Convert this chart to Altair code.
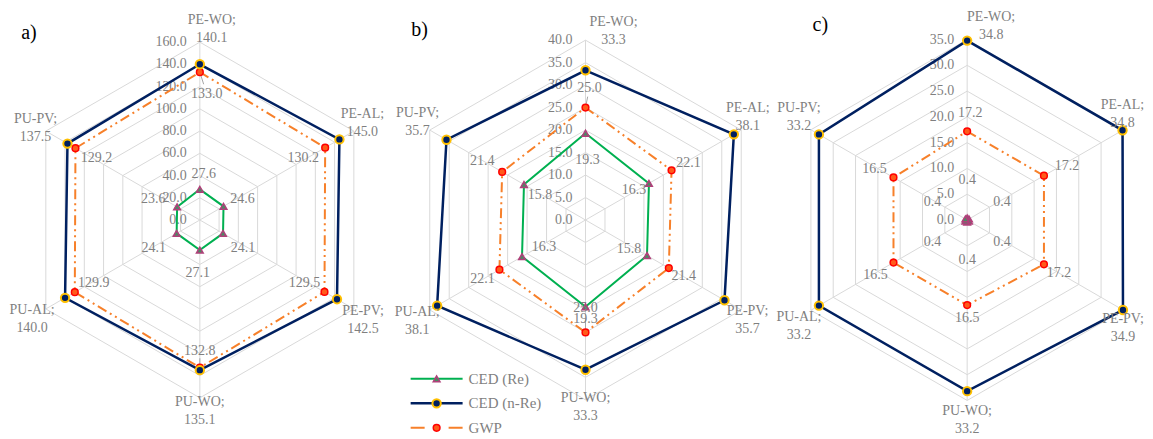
import math
import altair as alt
import pandas as pd

# ---------------- data ----------------
categories = ["PE-WO", "PE-AL", "PE-PV", "PU-WO", "PU-AL", "PU-PV"]
series_names = ["CED (Re)", "CED (n-Re)", "GWP"]

a_ced_re = [27.6, 24.6, 24.1, 27.1, 24.1, 23.6]
a_ced_nre = [140.1, 145.0, 142.5, 135.1, 140.0, 137.5]
a_gwp = [133.0, 130.2, 129.5, 132.8, 129.9, 129.2]
a_ticks = [0, 20, 40, 60, 80, 100, 120, 140, 160]

b_ced_re = [19.3, 16.3, 15.8, 19.3, 16.3, 15.8]
b_ced_nre = [33.3, 38.1, 35.7, 33.3, 38.1, 35.7]
b_gwp = [25.0, 22.1, 21.4, 25.0, 22.1, 21.4]
b_ticks = [0, 5, 10, 15, 20, 25, 30, 35, 40]

c_ced_re = [0.4, 0.4, 0.4, 0.4, 0.4, 0.4]
c_ced_nre = [34.8, 34.8, 34.9, 33.2, 33.2, 33.2]
c_gwp = [17.2, 17.2, 17.2, 16.5, 16.5, 16.5]
c_ticks = [0, 5, 10, 15, 20, 25, 30, 35]

panel_letters = ["a)", "b)", "c)"]

# ---------------- style ----------------
FONT = "Liberation Serif, DejaVu Serif, serif"
GRAY = "#7f7f7f"
GRID = "#d9d9d9"
LEADER = "#a6a6a6"
GREEN = "#00b050"
NAVY = "#002060"
GOLD = "#ffc000"
ORANGE = "#f7802a"
RED = "#ff0000"
LINE_H = 18

# panel layout: width, height, centre offset (px), px per data unit
layouts = [
    dict(w=384, h=423, cx=192, cy=212, k=178 / 160, letter=(21, 25), leaders=[0, 3]),
    dict(w=386, h=423, cx=194, cy=212, k=180 / 40, letter=(28, 22), leaders=[0, 3]),
    dict(w=367, h=423, cx=190, cy=212, k=180.6 / 35, letter=(43, 17), leaders=[]),
]

# label offsets in pixels (dx right, dy down) relative to each point (block centre)
offsets = [
    {
        "CED (n-Re)": [(12, -35), (23, -16), (26, 21), (0, 41), (-33, 21), (-32, -16)],
        "GWP": [(7, 22), (-22, 10), (-20, -9), (0, -17), (19, -9), (21, 10)],
        "CED (Re)": [(4, -15), (19, -7), (20, 15), (-2, 23), (-23, 15), (-24, -8)],
    },
    {
        "CED (n-Re)": [(28, -39), (14, -17), (23, 20), (0, 37), (-20, 15), (-29, -18)],
        "GWP": [(4, -20), (17, -7), (15, 8), (0, -24), (-17, 9), (-20, -11)],
        "CED (Re)": [(2, 27), (-15, 7), (-18, -7), (0, 12), (22, -10), (16, 11)],
    },
    {
        "CED (n-Re)": [(24, -15), (0, -16), (0, 18), (0, 29), (-20, 20), (-20, -17)],
        "GWP": [(3, -18), (23, -10), (15, 9), (0, 13), (-18, 12), (-19, -8)],
        "CED (Re)": [(0, -38), (33, -17), (33, 21), (0, 38), (-33, 21), (-33, -17)],
    },
]

angles = [math.radians(60 * i) for i in range(6)]


def panel(idx, re_vals, nre_vals, gwp_vals, ticks):
    lay = layouts[idx]
    W, H, cxr, cyr, k = lay["w"], lay["h"], lay["cx"], lay["cy"], lay["k"]
    xs = alt.Scale(domain=[-cxr / k, (W - cxr) / k], nice=False, zero=False)
    ys = alt.Scale(domain=[-(H - cyr) / k, cyr / k], nice=False, zero=False)

    def X(f):
        return alt.X(f, type="quantitative", scale=xs, axis=None)

    def Y(f):
        return alt.Y(f, type="quantitative", scale=ys, axis=None)

    rmax = max(ticks)
    grid_rows = []
    for t in ticks:
        for j in range(7):
            a = angles[j % 6]
            grid_rows.append(dict(ring=t, j=j, x=t * math.sin(a), y=t * math.cos(a)))
    grid = alt.Chart(pd.DataFrame(grid_rows)).mark_line(
        color=GRID, strokeWidth=1
    ).encode(x=X("x"), y=Y("y"), detail="ring:N", order="j:Q")

    spoke_rows = [
        dict(x=0.0, y=0.0, x2=rmax * math.sin(a), y2=rmax * math.cos(a)) for a in angles
    ]
    spokes = alt.Chart(pd.DataFrame(spoke_rows)).mark_rule(
        color=GRID, strokeWidth=1
    ).encode(x=X("x"), y=Y("y"), x2="x2:Q", y2="y2:Q")

    tick_df = pd.DataFrame(
        dict(x=[0.0] * len(ticks), y=ticks, label=[f"{t:.1f}" for t in ticks])
    )
    tick_text = alt.Chart(tick_df).mark_text(
        font=FONT, fontSize=14, color=GRAY, align="right", baseline="middle", dx=-13
    ).encode(x=X("x"), y=Y("y"), text="label:N")

    layers = [grid, spokes, tick_text]

    series_vals = {"CED (Re)": re_vals, "CED (n-Re)": nre_vals, "GWP": gwp_vals}
    line_style = {
        "GWP": dict(color=ORANGE, strokeWidth=2, strokeDash=[10, 4, 2, 4, 2, 4]),
        "CED (n-Re)": dict(color=NAVY, strokeWidth=2.5),
        "CED (Re)": dict(color=GREEN, strokeWidth=2),
    }
    point_style = {
        "GWP": dict(shape="circle", size=45, fill="#ff5a1a", stroke=RED, strokeWidth=1.5, opacity=1),
        "CED (n-Re)": dict(shape="circle", size=70, fill=NAVY, stroke=GOLD, strokeWidth=2, opacity=1),
        "CED (Re)": dict(shape="triangle-up", size=45, fill="#4a8a63", stroke="#b0407a", strokeWidth=1.5, opacity=1),
    }
    label_rows = []
    leader_rows = []
    for s in ["GWP", "CED (n-Re)", "CED (Re)"]:
        vals = series_vals[s]
        rows = []
        for j in range(7):
            i = j % 6
            rows.append(dict(cat=categories[i], value=vals[i], j=j,
                             x=vals[i] * math.sin(angles[i]), y=vals[i] * math.cos(angles[i])))
        layers.append(
            alt.Chart(pd.DataFrame(rows)).mark_line(**line_style[s]).encode(
                x=X("x"), y=Y("y"), order="j:Q")
        )
        for i in range(6):
            dx, dy = offsets[idx][s][i]
            bx = vals[i] * math.sin(angles[i])
            by = vals[i] * math.cos(angles[i])
            if s == "GWP" and i in lay["leaders"]:
                leader_rows.append(dict(
                    x=bx + 0.15 * dx / k, y=by - 0.15 * dy / k,
                    x2=bx + 0.55 * dx / k, y2=by - 0.55 * dy / k))
            if s == "CED (n-Re)":
                txt = f"{categories[i]};\n{vals[i]:.1f}"
                dy -= LINE_H / 2  # first line sits half a line above the block centre
            else:
                txt = f"{vals[i]:.1f}"
            label_rows.append(dict(x=bx + dx / k, y=by - dy / k, text=txt))

    if leader_rows:
        layers.append(alt.Chart(pd.DataFrame(leader_rows)).mark_rule(
            color=LEADER, strokeWidth=1
        ).encode(x=X("x"), y=Y("y"), x2="x2:Q", y2="y2:Q"))

    for s in ["GWP", "CED (n-Re)", "CED (Re)"]:
        vals = series_vals[s]
        df = pd.DataFrame(dict(cat=categories, value=vals,
                               x=[v * math.sin(a) for v, a in zip(vals, angles)],
                               y=[v * math.cos(a) for v, a in zip(vals, angles)]))
        layers.append(
            alt.Chart(df).mark_point(filled=True, **point_style[s]).encode(x=X("x"), y=Y("y"))
        )

    labels = alt.Chart(pd.DataFrame(label_rows)).mark_text(
        font=FONT, fontSize=14, color=GRAY, align="center", baseline="middle",
        lineBreak="\n", lineHeight=LINE_H
    ).encode(x=X("x"), y=Y("y"), text="text:N")
    layers.append(labels)

    lx, ly = lay["letter"]
    letter = alt.Chart(pd.DataFrame(dict(t=[panel_letters[idx]]))).mark_text(
        font=FONT, fontSize=20, color="black", align="center", baseline="middle"
    ).encode(x=alt.value(lx), y=alt.value(ly), text="t:N")
    layers.append(letter)

    if idx == 1:
        # legend drawn inside panel b
        for n, s in enumerate(series_names):
            yy = 371 + 24.5 * n
            one = pd.DataFrame(dict(name=[s]))
            ls = dict(line_style[s])
            if s == "GWP":
                ls["strokeDash"] = [14, 24]
            layers.append(alt.Chart(one).mark_rule(**ls).encode(
                x=alt.value(19), x2=alt.value(71), y=alt.value(yy)))
            layers.append(alt.Chart(one).mark_point(filled=True, **point_style[s]).encode(
                x=alt.value(45), y=alt.value(yy)))
            layers.append(alt.Chart(one).mark_text(
                font=FONT, fontSize=15, color=GRAY, align="left", baseline="middle"
            ).encode(x=alt.value(77), y=alt.value(yy), text="name:N"))

    return alt.layer(*layers).properties(width=W, height=H)


pa = panel(0, a_ced_re, a_ced_nre, a_gwp, a_ticks)
pb = panel(1, b_ced_re, b_ced_nre, b_gwp, b_ticks)
pc = panel(2, c_ced_re, c_ced_nre, c_gwp, c_ticks)

chart = (
    alt.hconcat(pa, pb, pc, spacing=0, bounds="flush")
    .properties(padding=0)
    .configure_view(stroke=None)
)
chart.save("out.html", embed_options={"renderer": "svg", "actions": False})
